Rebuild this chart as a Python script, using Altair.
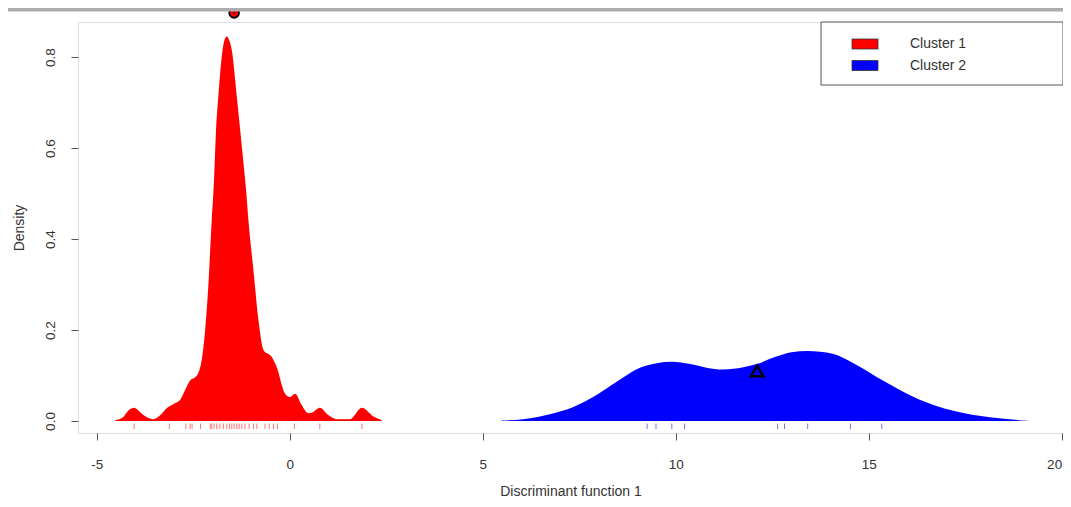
import altair as alt
import pandas as pd

# ---- data ----
clusters = ["Cluster 1", "Cluster 2"]
cluster_colors = ["#ff0000", "#0000ff"]

# Cluster 1 density curve (red)
c1_x = [-4.52, -4.31, -4.18, -4.03, -3.88, -3.70, -3.53, -3.35, -3.19, -3.02,
        -2.84, -2.71, -2.58, -2.45, -2.37, -2.28, -2.19, -2.11, -2.02, -1.96,
        -1.91, -1.85, -1.76, -1.70, -1.63, -1.56, -1.50, -1.37, -1.24, -1.13,
        -1.07, -0.94, -0.81, -0.68, -0.47, -0.34, -0.12, 0.01, 0.14, 0.31,
        0.48, 0.57, 0.78, 1.00, 1.22, 1.56, 1.87, 2.17, 2.38]
c1_y = [0.002, 0.009, 0.023, 0.029, 0.020, 0.008, 0.004, 0.013, 0.028, 0.037,
        0.046, 0.068, 0.089, 0.096, 0.105, 0.134, 0.200, 0.295, 0.442, 0.530,
        0.637, 0.712, 0.801, 0.834, 0.845, 0.835, 0.815, 0.712, 0.603, 0.508,
        0.442, 0.332, 0.222, 0.156, 0.141, 0.119, 0.060, 0.053, 0.060, 0.035,
        0.017, 0.018, 0.029, 0.013, 0.004, 0.004, 0.029, 0.010, 0.002]

# Cluster 2 density curve (blue)
c2_x = [5.49, 6.05, 6.74, 7.35, 7.95, 8.47, 8.99, 9.51, 9.90, 10.37, 10.80,
        11.23, 11.75, 12.10, 12.59, 13.00, 13.42, 14.07, 14.63, 15.37, 16.29,
        17.22, 18.14, 19.11]
c2_y = [0.001, 0.004, 0.015, 0.031, 0.057, 0.086, 0.114, 0.127, 0.130, 0.125,
        0.117, 0.113, 0.118, 0.125, 0.141, 0.151, 0.154, 0.148, 0.126, 0.089,
        0.048, 0.022, 0.008, 0.0005]

# rug positions
rug1 = [-4.03, -3.12, -2.69, -2.58, -2.53, -2.31, -2.06, -2.02, -1.96, -1.89,
        -1.81, -1.72, -1.63, -1.56, -1.50, -1.44, -1.37, -1.31, -1.24, -1.16,
        -1.05, -0.94, -0.85, -0.64, -0.53, -0.42, -0.32, 0.12, 0.78, 1.87]
rug2 = [9.26, 9.49, 9.90, 10.23, 12.64, 12.82, 13.42, 14.53, 15.34]

# centroid markers
marker_circle = {"x": [-1.44], "y": [0.897]}
marker_triangle = {"x": [12.11], "y": [0.11]}

x_ticks = [-5, 0, 5, 10, 15, 20]
y_ticks = [0.0, 0.2, 0.4, 0.6, 0.8]

FONT = "Liberation Sans"
TXT = "#333333"
LINE = "#555555"

dens = pd.DataFrame({
    "x": c1_x + c2_x,
    "density": c1_y + c2_y,
    "cluster": [clusters[0]] * len(c1_x) + [clusters[1]] * len(c2_x),
})
rugs = pd.DataFrame({
    "x": rug1 + rug2,
    "cluster": [clusters[0]] * len(rug1) + [clusters[1]] * len(rug2),
})

xscale = alt.Scale(domain=[-5.485, 20.035], nice=False, zero=False)
yscale = alt.Scale(domain=[-0.0264, 0.877], nice=False, zero=False)
cscale = alt.Scale(domain=clusters, range=cluster_colors)

xaxis = alt.Axis(values=x_ticks, tickSize=7, domain=False, grid=False,
                 labelExpr="'' + datum.value",
                 labelFont=FONT, labelFontSize=13.5, labelColor=TXT,
                 labelBaseline="middle", labelPadding=24,
                 labelFlush=5,
                 tickColor=LINE, title="Discriminant function 1",
                 titleFont=FONT, titleFontSize=14, titleFontWeight="normal",
                 titleColor=TXT, titleX=492.5, titleY=58,
                 titleAlign="center", titleBaseline="middle")
yaxis = alt.Axis(values=y_ticks, tickSize=7, domain=False, grid=False,
                 format=".1f", labelFont=FONT, labelFontSize=13.5,
                 labelColor=TXT, labelAngle=270, labelAlign="center",
                 labelBaseline="middle", labelPadding=21, labelFlush=False,
                 tickColor=LINE, title="Density", titleFont=FONT,
                 titleFontSize=14, titleFontWeight="normal", titleColor=TXT,
                 titleAngle=270, titleX=-59, titleY=205.5,
                 titleAlign="center", titleBaseline="middle")

area = alt.Chart(dens).mark_area(interpolate="monotone", opacity=1).encode(
    x=alt.X("x:Q", scale=xscale, axis=xaxis),
    y=alt.Y("density:Q", scale=yscale, axis=yaxis),
    y2=alt.datum(0),
    color=alt.Color("cluster:N", scale=cscale, legend=None),
)

rug = alt.Chart(rugs).mark_rule(strokeWidth=1, opacity=0.55).encode(
    x="x:Q",
    y=alt.value(401.5),
    y2=alt.value(407),
    color=alt.Color("cluster:N", scale=cscale, legend=None),
)

circ = alt.Chart(pd.DataFrame(marker_circle)).mark_point(
    shape="circle", size=95, filled=True, fill="#ff0000", stroke="#000000",
    strokeWidth=1.8, opacity=1).encode(x="x:Q", y="y:Q")
dot = alt.Chart(pd.DataFrame(marker_circle)).mark_point(
    shape="circle", size=4, filled=True, fill="#550000", opacity=1).encode(
    x="x:Q", y="y:Q")
tri = alt.Chart(pd.DataFrame(marker_triangle)).mark_point(
    shape="triangle-up", size=150, filled=False, stroke="#000000",
    strokeWidth=2.5, opacity=1).encode(x="x:Q", y="y:Q")

one = pd.DataFrame({"k": [0]})
leg_box = alt.Chart(one).mark_rect(fill="white", stroke=LINE,
                                   strokeWidth=1).encode(
    x=alt.value(743), x2=alt.value(985), y=alt.value(0), y2=alt.value(63))

leg_layers = []
for i, (name, col) in enumerate(zip(clusters, cluster_colors)):
    d = pd.DataFrame({"label": [name]})
    yc = 22 + 21.5 * i
    leg_layers.append(alt.Chart(d).mark_rect(fill=col, stroke="#333333",
                                             strokeWidth=0.8).encode(
        x=alt.value(774), x2=alt.value(800),
        y=alt.value(yc - 5), y2=alt.value(yc + 5)))
    leg_layers.append(alt.Chart(d).mark_text(
        align="left", baseline="middle", font=FONT, fontSize=14,
        color=TXT).encode(x=alt.value(832), y=alt.value(yc), text="label:N"))

top_bar = alt.Chart(one).mark_rect(fill="#acacac").encode(
    x=alt.value(-70), x2=alt.value(985), y=alt.value(-14), y2=alt.value(-10.5))

chart = alt.layer(area, rug, circ, dot, tri, leg_box, *leg_layers,
                  top_bar).properties(
    width=985, height=411,
    padding={"left": 70, "top": 14, "right": 0, "bottom": 66},
    autosize="none",
).configure_view(stroke=LINE, strokeWidth=1).configure(background="white")

chart.save("out.html", embed_options={"renderer": "svg", "actions": False})
